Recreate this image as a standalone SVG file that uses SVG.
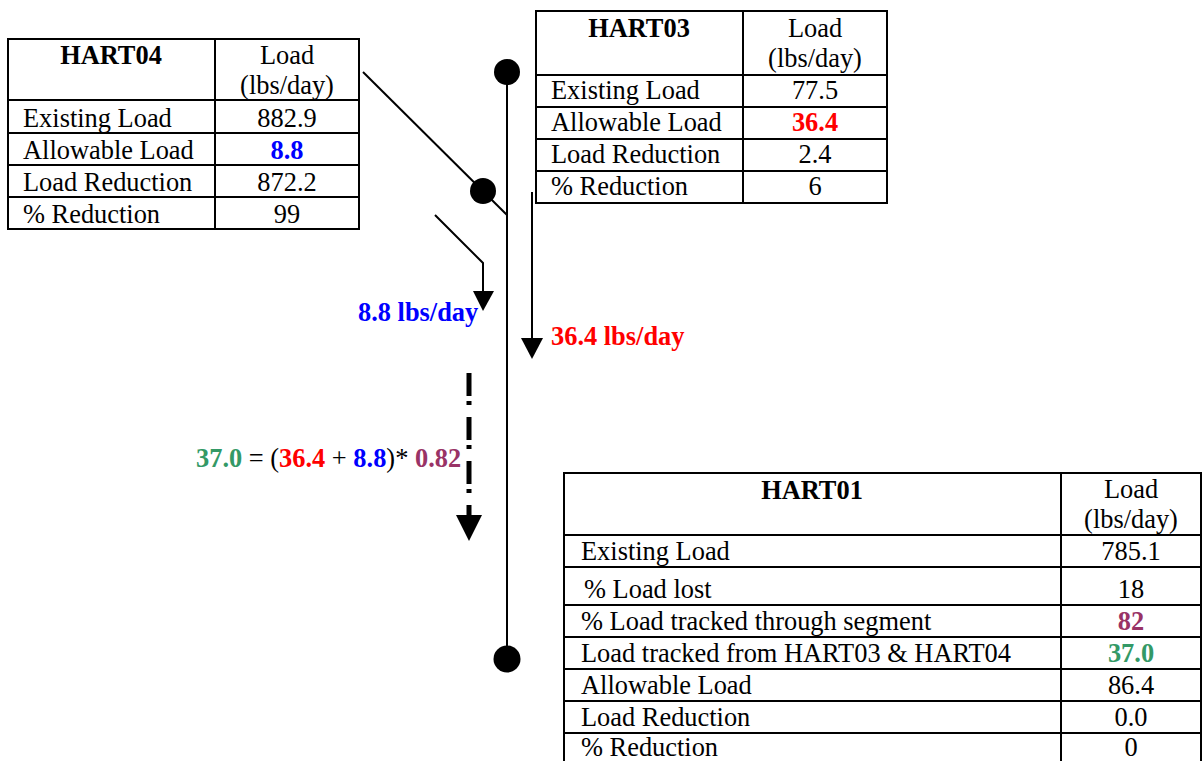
<svg xmlns="http://www.w3.org/2000/svg" width="1202" height="761" viewBox="0 0 1202 761">
<style>
.t{font-family:"Liberation Serif","Times New Roman",serif;font-size:26.4px;fill:#000}
.b{font-weight:bold}
.c{text-anchor:middle}
.grid{fill:none;stroke:#000;stroke-width:2}
.ln{fill:none;stroke:#000;stroke-width:2}
.red{fill:#ff0000}
.blue{fill:#0000ff}
.green{fill:#339966}
.purple{fill:#993366}
</style>
<rect width="1202" height="761" fill="#fff"/>
<g id="connectors">
  <line class="ln" x1="507" y1="72" x2="507" y2="659"/>
  <line class="ln" x1="363" y1="72" x2="507" y2="215"/>
  <polyline class="ln" points="435,215 483,263 483,292"/>
  <polygon points="473,291 494,291 483,311" fill="#000"/>
  <line class="ln" x1="532" y1="192" x2="532" y2="340"/>
  <polygon points="521,338 543,338 532,359" fill="#000"/>
  <line x1="469" y1="373" x2="469" y2="516" stroke="#000" stroke-width="5" stroke-dasharray="23 5 4 12"/>
  <polygon points="456,515 482,515 469,541" fill="#000"/>
</g>
<g id="node-top">
  <circle cx="507" cy="72" r="13" fill="#000"/>
</g>
<g id="node-mid">
  <circle cx="483" cy="191" r="13" fill="#000"/>
</g>
<g id="node-bottom">
  <circle cx="507" cy="659" r="13.5" fill="#000"/>
</g>
<g id="hart04">
  <rect class="grid" x="8" y="39" width="351" height="190"/>
  <line class="grid" x1="215" y1="39" x2="215" y2="229"/>
  <line class="grid" x1="8" y1="100" x2="359" y2="100"/>
  <line class="grid" x1="8" y1="133" x2="359" y2="133"/>
  <line class="grid" x1="8" y1="165" x2="359" y2="165"/>
  <line class="grid" x1="8" y1="197" x2="359" y2="197"/>
  <text class="t b c" x="111" y="64">HART04</text>
  <text class="t c" x="287" y="64">Load</text>
  <text class="t c" x="287" y="94">(lbs/day)</text>
  <text class="t" x="23" y="127">Existing Load</text>
  <text class="t c" x="287" y="127">882.9</text>
  <text class="t" x="23" y="159">Allowable Load</text>
  <text class="t b c blue" x="287" y="159">8.8</text>
  <text class="t" x="23" y="191">Load Reduction</text>
  <text class="t c" x="287" y="191">872.2</text>
  <text class="t" x="23" y="223">% Reduction</text>
  <text class="t c" x="287" y="223">99</text>
</g>
<g id="hart03">
  <rect class="grid" x="536" y="11" width="351" height="192"/>
  <line class="grid" x1="743" y1="11" x2="743" y2="203"/>
  <line class="grid" x1="536" y1="75" x2="887" y2="75"/>
  <line class="grid" x1="536" y1="107" x2="887" y2="107"/>
  <line class="grid" x1="536" y1="139" x2="887" y2="139"/>
  <line class="grid" x1="536" y1="171" x2="887" y2="171"/>
  <text class="t b c" x="639" y="37">HART03</text>
  <text class="t c" x="815" y="37">Load</text>
  <text class="t c" x="815" y="67">(lbs/day)</text>
  <text class="t" x="551" y="99">Existing Load</text>
  <text class="t c" x="815" y="99">77.5</text>
  <text class="t" x="551" y="131">Allowable Load</text>
  <text class="t b c red" x="815" y="131">36.4</text>
  <text class="t" x="551" y="163">Load Reduction</text>
  <text class="t c" x="815" y="163">2.4</text>
  <text class="t" x="551" y="195">% Reduction</text>
  <text class="t c" x="815" y="195">6</text>
</g>
<g id="hart01">
  <rect class="grid" x="564" y="473" width="637" height="300"/>
  <line class="grid" x1="1061" y1="473" x2="1061" y2="761"/>
  <line class="grid" x1="564" y1="535" x2="1202" y2="535"/>
  <line class="grid" x1="564" y1="567" x2="1202" y2="567"/>
  <line class="grid" x1="564" y1="605" x2="1202" y2="605"/>
  <line class="grid" x1="564" y1="637" x2="1202" y2="637"/>
  <line class="grid" x1="564" y1="669" x2="1202" y2="669"/>
  <line class="grid" x1="564" y1="701" x2="1202" y2="701"/>
  <line class="grid" x1="564" y1="733" x2="1202" y2="733"/>
  <text class="t b c" x="812" y="499">HART01</text>
  <text class="t c" x="1131" y="498">Load</text>
  <text class="t c" x="1131" y="528">(lbs/day)</text>
  <text class="t" x="581" y="560">Existing Load</text>
  <text class="t c" x="1131" y="560">785.1</text>
  <text class="t" x="584" y="598">% Load lost</text>
  <text class="t c" x="1131" y="598">18</text>
  <text class="t" x="581" y="630">% Load tracked through segment</text>
  <text class="t b c purple" x="1131" y="630">82</text>
  <text class="t" x="581" y="662">Load tracked from HART03 &amp; HART04</text>
  <text class="t b c green" x="1131" y="662">37.0</text>
  <text class="t" x="581" y="694">Allowable Load</text>
  <text class="t c" x="1131" y="694">86.4</text>
  <text class="t" x="581" y="726">Load Reduction</text>
  <text class="t c" x="1131" y="726">0.0</text>
  <text class="t" x="581" y="756">% Reduction</text>
  <text class="t c" x="1131" y="756">0</text>
</g>
<g id="labels">
  <text class="t b blue" x="358" y="321">8.8 lbs/day</text>
  <text class="t b red" x="551" y="345">36.4 lbs/day</text>
  <text class="t" x="196" y="467"><tspan class="b green">37.0</tspan> = (<tspan class="b red">36.4</tspan> + <tspan class="b blue">8.8</tspan>)* <tspan class="b purple">0.82</tspan></text>
</g>
</svg>
